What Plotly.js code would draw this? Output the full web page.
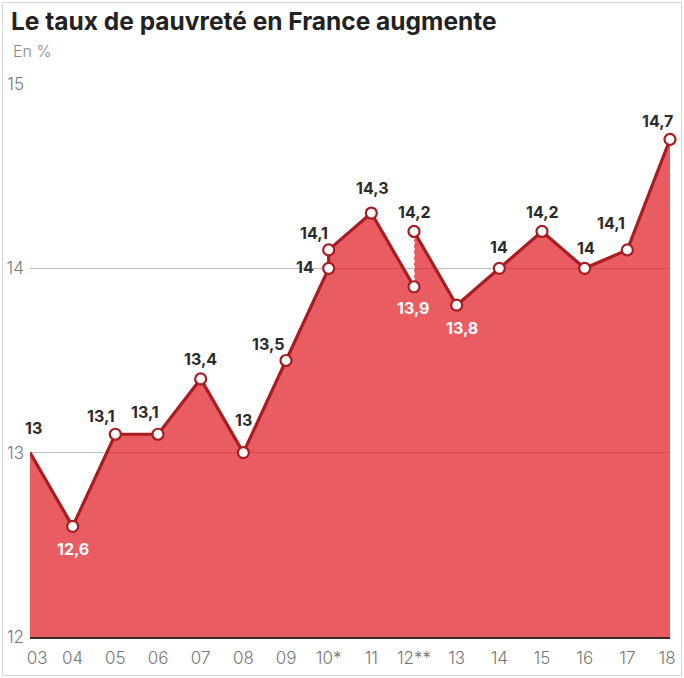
<!DOCTYPE html>
<html><head><meta charset="utf-8">
<script src="https://cdn.plot.ly/plotly-3.0.1.min.js"></script>
<style>
body{margin:0;background:#fff}
#frame{position:absolute;left:2px;top:2px;width:678px;height:672px;border:1px solid #d6d6d6;pointer-events:none}
</style>
</head><body>
<div id="chart" style="width:684px;height:678px"></div>
<div id="frame"></div>
<script>
// ---- data ----
const tickYears = [2003,2004,2005,2006,2007,2008,2009,2010,2011,2012,2013,2014,2015,2016,2017,2018];
const tickLabels = ["03","04","05","06","07","08","09","10*","11","12**","13","14","15","16","17","18"];
// old series (up to 2010, before the method change)
const oldYears = [2003,2004,2005,2006,2007,2008,2009,2010];
const oldValues = [13,12.6,13.1,13.1,13.4,13.0,13.5,14.0];
// 2010–2012 series
const midYears = [2010,2011,2012];
const midValues = [14.1,14.3,13.9];
// series from 2012 onward
const newYears = [2012,2013,2014,2015,2016,2017,2018];
const newValues = [14.2,13.8,14.0,14.2,14.0,14.1,14.7];

// ---- styling ----
const LINE = '#a61d22';
const FILL = 'rgba(224,38,46,0.75)';
const FONT = 'Inter, Roboto, "DejaVu Sans", sans-serif';

const line1X = oldYears.concat(midYears);
const line1Y = oldValues.concat(midValues);
const allX = line1X.concat(newYears);
const allY = line1Y.concat(newValues);

const traces = [
  {x: allX, y: allY, type:'scatter', mode:'lines', fill:'tozeroy', fillcolor: FILL,
   line:{width:0, color:'rgba(0,0,0,0)'}, hoverinfo:'skip'},
  {x: line1X, y: line1Y, type:'scatter', mode:'lines', line:{color:LINE, width:3.2}, cliponaxis:false, hoverinfo:'skip'},
  {x: newYears, y: newValues, type:'scatter', mode:'lines', line:{color:LINE, width:3.2}, cliponaxis:false, hoverinfo:'skip'},
  {x: [midYears[midYears.length-1], newYears[0]], y: [midValues[midValues.length-1], newValues[0]],
   type:'scatter', mode:'lines', line:{color:'rgba(255,255,255,0.9)', width:1.5, dash:'dot'}, hoverinfo:'skip'},
  {x: allX.slice(1), y: allY.slice(1), type:'scatter', mode:'markers', cliponaxis:false,
   marker:{size:11, color:'#ffffff', line:{color:LINE, width:2.2}}, hoverinfo:'skip'}
];

// label offset per point (index in allX/allY): [xshift px, yshift px (up), white text]
const place = [
  [3,25,false],    // 03
  [0,-23,true],    // 04
  [-14,18,false],  // 05
  [-13,22,false],  // 06
  [0,20,false],    // 07
  [0,33,false],    // 08
  [-18,17,false],  // 09
  [-24,1,false],   // 10 old
  [-15,17,false],  // 10 new
  [1,25,false],    // 11
  [-1,-21,true],   // 12 old
  [0,19,false],    // 12 new
  [5,-23,true],    // 13
  [0,21,false],    // 14
  [0,19,false],    // 15
  [1,20,false],    // 16
  [-16,27,false],  // 17
  [-13,18,false]   // 18
];

const fmt = v => String(v).replace('.', ',');
const annotations = allX.map((x,i) => {
  const p = place[i];
  return {x:x, y:allY[i], xref:'x', yref:'y', text: fmt(allY[i]), showarrow:false,
    xanchor:'center', yanchor:'middle', xshift:p[0], yshift:p[1],
    font:{family:FONT, size:16, weight:700, color: p[2] ? '#ffffff' : '#2b2b2b'}};
});
annotations.push({xref:'paper', yref:'paper', x:-0.029, y:1.059, xanchor:'left', yanchor:'middle',
  text:'En %', showarrow:false, font:{family:FONT, size:16, color:'#8a8a8a', weight:300}});

// tick label positions (first/last nudged inward like the reference)
const tickPos = tickYears.map((y,i) => i === 0 ? y + 0.17 : (i === tickYears.length-1 ? y - 0.07 : y));

const layout = {
  width:684, height:678,
  margin:{l:30, r:14, t:84, b:41},
  paper_bgcolor:'#ffffff', plot_bgcolor:'#ffffff',
  showlegend:false,
  title:{text:'Le taux de pauvreté en France augmente', xref:'container', yref:'container',
    x:11/684, xanchor:'left', y:1-21/678, yanchor:'middle',
    font:{family:FONT, size:24.5, weight:700, color:'#222222'}},
  xaxis:{range:[2003,2018], tickvals:tickPos, ticktext:tickLabels, showgrid:false, zeroline:false,
    showline:true, linecolor:'#3a2a2a', linewidth:1.5, ticks:'', ticklen:0, ticklabelstandoff:5,
    tickfont:{family:FONT, size:17, color:'#777777', weight:300}, fixedrange:true},
  yaxis:{range:[12,15], tickvals:[12,13,14,15], ticktext:['12','13','14','15'], showgrid:true,
    gridcolor:'#bdbdbd', gridwidth:1, zeroline:false, showline:false, ticks:'',
    tickfont:{family:FONT, size:17, color:'#777777', weight:300}, ticklabelstandoff:5, fixedrange:true},
  annotations: annotations
};

Plotly.newPlot('chart', traces, layout, {displayModeBar:false, staticPlot:true});
</script>
</body></html>
